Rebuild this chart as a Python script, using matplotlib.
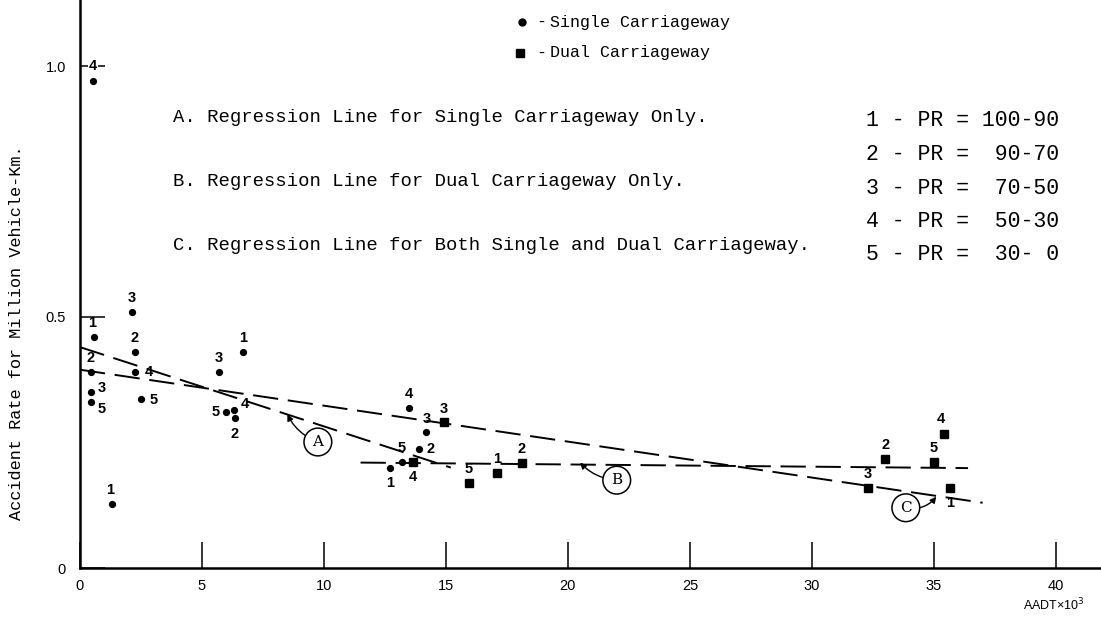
import matplotlib
matplotlib.use('Agg')
import matplotlib.pyplot as plt

# Single carriageway points (AADT x 10^3, accident rate, PR class)
single_x = [0.53, 0.57, 0.45, 0.45, 0.45, 1.3, 2.13, 2.25, 2.25, 2.5,
            5.7, 6.7, 6.0, 6.3, 6.35, 13.5, 14.2, 13.9, 13.2, 12.7]
single_y = [0.97, 0.46, 0.39, 0.35, 0.33, 0.127, 0.51, 0.43, 0.39, 0.337,
            0.39, 0.43, 0.31, 0.315, 0.298, 0.319, 0.27, 0.237, 0.211, 0.20]
single_pr = ['4', '1', '2', '3', '5', '1', '3', '2', '4', '5',
             '3', '1', '5', '4', '2', '4', '3', '2', '5', '1']

# Dual carriageway points
dual_x = [13.65, 14.9, 15.95, 17.1, 18.1, 35.4, 33.0, 35.0, 32.3, 35.65]
dual_y = [0.211, 0.29, 0.169, 0.19, 0.209, 0.267, 0.217, 0.211, 0.16, 0.16]
dual_pr = ['4', '3', '5', '1', '2', '4', '2', '5', '3', '1']

# Regression lines (end points)
line_a_x = [0, 15.2]
line_a_y = [0.44, 0.20]
line_b_x = [11.5, 36.4]
line_b_y = [0.21, 0.199]
line_c_x = [0, 37.0]
line_c_y = [0.395, 0.13]

xticks = [0, 5, 10, 15, 20, 25, 30, 35, 40]
yticks = [0, 0.5, 1.0]
ytick_labels = ['0', '0.5', '1.0']

notes = ['A. Regression Line for Single Carriageway Only.',
         'B. Regression Line for Dual Carriageway Only.',
         'C. Regression Line for Both Single and Dual Carriageway.']
pr_classes = ['1 - PR = 100-90', '2 - PR =  90-70', '3 - PR =  70-50',
              '4 - PR =  50-30', '5 - PR =  30- 0']

# label offsets in points for each point's PR number
single_off = [(0, 11), (-1, 10), (0, 10), (8, 3), (8, -5), (-1, 10), (0, 10), (0, 10), (10, 0), (9, -1),
              (0, 10), (0, 10), (-8, 0), (8, 4), (0, -11), (0, 10), (0, 10), (8, 0), (0, 10), (0, -11)]
dual_off = [(0, -11), (0, 10), (0, 10), (0, 10), (0, 10), (-2, 11), (0, 10), (0, 10), (0, 10), (0, -11)]

type_font = 'Liberation Mono'

fig = plt.figure(figsize=(11.01, 6.23), dpi=100)
ax = fig.add_axes([80 / 1101, 55 / 623, 1021 / 1101, 568 / 623])
ax.set_xlim(0, 41.85)
ax.set_ylim(0, 568 / 502)

for s in ['top', 'right']:
    ax.spines[s].set_visible(False)
for s in ['left', 'bottom']:
    ax.spines[s].set_linewidth(1.8)

ax.set_xticks(xticks)
ax.set_xticklabels([str(t) for t in xticks], family='Liberation Sans', fontsize=10.5)
ax.set_yticks(yticks)
ax.set_yticklabels(ytick_labels, family='Liberation Sans', fontsize=10.5)
ax.tick_params(axis='x', direction='in', length=18.5, width=1.1, pad=8)
ax.tick_params(axis='y', direction='in', length=18, width=1.1, pad=10)

dash = dict(color='black', lw=1.4, dashes=(13, 5))
ax.plot(line_a_x, line_a_y, **dash)
ax.plot(line_b_x, line_b_y, **dash)
ax.plot(line_c_x, line_c_y, **dash)

ax.plot(single_x, single_y, 'o', color='black', ms=4.2, zorder=3)
ax.plot(dual_x, dual_y, 's', color='black', ms=5.5, zorder=3)

lab = dict(ha='center', va='center', fontsize=10.5, fontweight='bold',
           family='Liberation Sans', textcoords='offset points')
for x, y, t, o in zip(single_x, single_y, single_pr, single_off):
    kw = dict(lab)
    if t == '4' and y > 0.9:
        kw['bbox'] = dict(fc='white', ec='none', pad=0.5)
    ax.annotate(t, (x, y), xytext=o, zorder=4, **kw)
for x, y, t, o in zip(dual_x, dual_y, dual_pr, dual_off):
    ax.annotate(t, (x, y), xytext=o, **lab)

# circled line callouts
circ = dict(boxstyle='circle,pad=0.45', fc='white', ec='black', lw=1.1)
arr = dict(arrowstyle='-|>', color='black', lw=1.0, mutation_scale=9,
           shrinkA=0, shrinkB=0)
ax.annotate('A', xy=(8.5, 0.306), xytext=(9.75, 0.251), ha='center', va='center',
            family='DejaVu Serif', fontsize=11, bbox=circ,
            arrowprops=dict(connectionstyle='arc3,rad=-0.2', **arr))
ax.annotate('B', xy=(20.5, 0.210), xytext=(22.0, 0.175), ha='center', va='center',
            family='DejaVu Serif', fontsize=11, bbox=circ,
            arrowprops=dict(connectionstyle='arc3,rad=-0.2', **arr))
ax.annotate('C', xy=(35.1, 0.142), xytext=(33.85, 0.12), ha='center', va='center',
            family='DejaVu Serif', fontsize=11, bbox=circ,
            arrowprops=dict(connectionstyle='arc3,rad=0.3', **arr))

# notes
for i, t in enumerate(notes):
    fig.text(173 / 1101, 1 - (118 + 63.5 * i) / 623, t, ha='left', va='center',
             family=type_font, fontsize=13.6)
for i, t in enumerate(pr_classes):
    fig.text(866 / 1101, 1 - (121 + 33.5 * i) / 623, t, ha='left', va='center',
             family=type_font, fontsize=15.5)

# marker legend
fig.text(536 / 1101, 1 - 22 / 623, '-', ha='left', va='center', family=type_font, fontsize=12)
fig.text(536 / 1101, 1 - 53 / 623, '-', ha='left', va='center', family=type_font, fontsize=12)
fig.text(550 / 1101, 1 - 22 / 623, 'Single Carriageway', ha='left', va='center',
         family=type_font, fontsize=12)
fig.text(550 / 1101, 1 - 53 / 623, 'Dual Carriageway', ha='left', va='center',
         family=type_font, fontsize=12)
fig.lines.append(plt.Line2D([522 / 1101], [1 - 22 / 623], marker='o', ms=5, color='black',
                            transform=fig.transFigure))
fig.lines.append(plt.Line2D([520 / 1101], [1 - 53 / 623], marker='s', ms=6, color='black',
                            transform=fig.transFigure))

fig.text(17 / 1101, 1 - 333 / 623, 'Accident Rate for Million Vehicle-Km.', rotation=90,
         ha='center', va='center', family=type_font, fontsize=12.2)
fig.text(1085 / 1101, 1 - 605 / 623, 'AADT\u00d710$^3$', ha='right', va='center',
         family='Liberation Sans', fontsize=9)

fig.savefig('out.png', dpi=100)
